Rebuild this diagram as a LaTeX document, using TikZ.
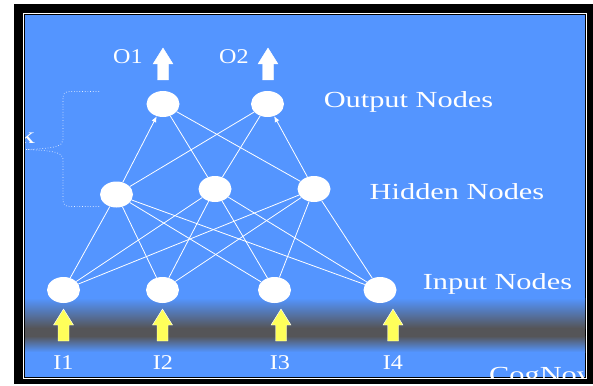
\documentclass[tikz,border=0pt]{standalone}
\usepackage{fontspec}
\setmainfont{Liberation Serif}
\usetikzlibrary{shapes.geometric,arrows.meta}

\definecolor{slideblue}{RGB}{84,149,255}
\definecolor{bandgray}{RGB}{85,85,88}
\definecolor{argyellow}{RGB}{255,255,90}
\newcommand{\widetext}[2][1.32]{\scalebox{#1}[1]{#2}}

\tikzset{
  unit/.style={ellipse, fill=white, minimum width=33pt, minimum height=26pt, inner sep=0pt},
  heading/.style={text=white, inner sep=0pt, font=\fontsize{23}{23}\selectfont},
  tag/.style={text=white, inner sep=0pt, font=\fontsize{21}{21}\selectfont},
  wire/.style={white, line width=0.8pt},
  uparrow/.pic={\filldraw[pic actions] (-5.5,0) -- (-5.5,-16) -- (-10,-16) -- (0,-32) -- (10,-16) -- (5.5,-16) -- (5.5,0) -- cycle;}
}

\begin{document}
\begin{tikzpicture}[x=1pt, y=-1pt]
\useasboundingbox (0,0) rectangle (593,385);
% frame and slide
\fill[black] (14,4) rectangle (593,384);
\draw[white, line width=1pt] (23.5,14) rectangle (586,378.5);
\fill[slideblue] (25,15.5) rectangle (585,377);
\shade[top color=slideblue, bottom color=bandgray] (25,298) rectangle (585,328);
\fill[bandgray] (25,328) rectangle (585,336);
\shade[top color=bandgray, bottom color=slideblue] (25,336) rectangle (585,352);

\begin{scope}
  \clip (25,15.5) rectangle (585,377);
  \node[heading, anchor=base east] (kfrag) at (35,143) {\widetext{k}};
  \node[heading, anchor=base west] (logo) at (489,382) {\widetext{CogNova}};
\end{scope}

% brace
\draw[white!85!slideblue, dotted, line width=0.7pt] (99,91.5) -- (70,91.5)
  .. controls (65,91.5) and (63,93.5) .. (63,98) -- (63,140)
  .. controls (63,146) and (55,148.5) .. (26,149.5)
  .. controls (55,150.5) and (63,153) .. (63,159) -- (63,199)
  .. controls (63,204.5) and (65,206.5) .. (70,206.5) -- (100,206.5);

% units
\node[unit] (o1) at (163,104) {};
\node[unit] (o2) at (267.5,104) {};
\node[unit] (h1) at (116.5,194.5) {};
\node[unit] (h2) at (215,189) {};
\node[unit] (h3) at (314,189) {};
\node[unit] (i1) at (63.5,290) {};
\node[unit] (i2) at (162.5,290) {};
\node[unit] (i3) at (274.5,290) {};
\node[unit] (i4) at (380,290) {};

% weights
\foreach \i in {i1,i2,i3,i4}
  \foreach \h in {h1,h2,h3}
    \draw[wire] (\i) -- (\h);
\foreach \h/\o in {h1/o2, h2/o1, h2/o2, h3/o1}
  \draw[wire] (\h) -- (\o);
\draw[wire, -{Latex[length=6pt,width=5pt]}] (h1) -- (o1);
\draw[wire, -{Latex[length=6pt,width=5pt]}] (h3) -- (o2);

% in and out arrows
\pic[fill=white, draw=white] at (163,80) {uparrow};
\pic[fill=white, draw=white] at (268,80) {uparrow};
\pic[fill=argyellow, draw=white, line width=0.4pt] at (63.5,341) {uparrow};
\pic[fill=argyellow, draw=white, line width=0.4pt] at (162.5,341) {uparrow};
\pic[fill=argyellow, draw=white, line width=0.4pt] at (281,341) {uparrow};
\pic[fill=argyellow, draw=white, line width=0.4pt] at (393,341) {uparrow};

% labels
\node[tag, anchor=base] (o1lbl) at (128,64) {\widetext[1.15]{O1}};
\node[tag, anchor=base] (o2lbl) at (234,64) {\widetext[1.15]{O2}};
\node[tag, anchor=base] (i1lbl) at (63.5,369) {\widetext[1.15]{I1}};
\node[tag, anchor=base] (i2lbl) at (163,369) {\widetext[1.15]{I2}};
\node[tag, anchor=base] (i3lbl) at (280,369) {\widetext[1.15]{I3}};
\node[tag, anchor=base] (i4lbl) at (393,369) {\widetext[1.15]{I4}};
\node[heading, anchor=base] (outlbl) at (408.5,107.5) {\widetext{Output Nodes}};
\node[heading, anchor=base] (hidlbl) at (457,199) {\widetext{Hidden Nodes}};
\node[heading, anchor=base] (inlbl) at (497.5,289) {\widetext{Input Nodes}};
\end{tikzpicture}
\end{document}
